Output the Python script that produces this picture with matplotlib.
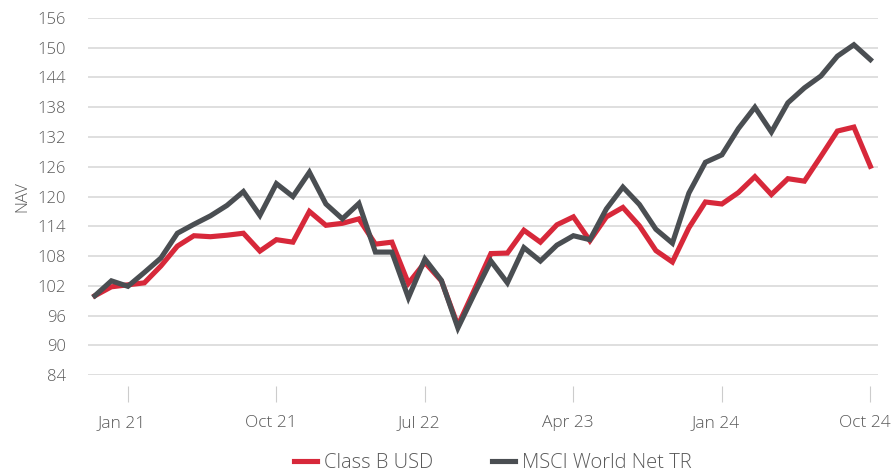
"""NAV chart: Class B USD vs MSCI World Net TR (monthly, Nov 2020 - Oct 2024)."""
import matplotlib

matplotlib.use("Agg")
import matplotlib.pyplot as plt  # noqa: E402
import matplotlib.transforms as mtransforms  # noqa: E402

plt.rcParams["font.family"] = ["Open Sans", "DejaVu Sans"]

months = [
    "Nov 20", "Dec 20", "Jan 21", "Feb 21", "Mar 21", "Apr 21", "May 21", "Jun 21",
    "Jul 21", "Aug 21", "Sep 21", "Oct 21", "Nov 21", "Dec 21", "Jan 22", "Feb 22",
    "Mar 22", "Apr 22", "May 22", "Jun 22", "Jul 22", "Aug 22", "Sep 22", "Oct 22",
    "Nov 22", "Dec 22", "Jan 23", "Feb 23", "Mar 23", "Apr 23", "May 23", "Jun 23",
    "Jul 23", "Aug 23", "Sep 23", "Oct 23", "Nov 23", "Dec 23", "Jan 24", "Feb 24",
    "Mar 24", "Apr 24", "May 24", "Jun 24", "Jul 24", "Aug 24", "Sep 24", "Oct 24",
]
class_b = [
    100.0, 101.8, 102.2, 102.6, 106.0, 110.0, 112.1, 111.9, 112.2, 112.6, 109.0, 111.3,
    110.8, 117.0, 114.2, 114.6, 115.5, 110.4, 110.8, 102.5, 106.7, 103.0, 94.0, 101.2,
    108.5, 108.6, 113.2, 110.8, 114.3, 115.9, 111.1, 115.9, 117.8, 114.1, 109.1, 106.8,
    113.7, 118.9, 118.5, 120.8, 124.0, 120.4, 123.6, 123.1, 128.1, 133.2, 134.0, 126.1,
]
msci = [
    100.0, 103.0, 101.9, 104.7, 107.6, 112.6, 114.4, 116.1, 118.2, 121.0, 116.2, 122.6,
    120.0, 124.9, 118.5, 115.5, 118.6, 108.8, 108.8, 99.6, 107.4, 103.1, 93.5, 100.4,
    107.0, 102.6, 109.7, 107.0, 110.2, 112.1, 111.3, 117.5, 121.9, 118.4, 113.4, 110.6,
    120.7, 126.9, 128.4, 133.7, 138.0, 133.0, 138.9, 141.9, 144.3, 148.3, 150.6, 147.6,
]
tick_labels = ["Jan 21", "Oct 21", "Jul 22", "Apr 23", "Jan 24", "Oct 24"]
y_ticks = list(range(84, 157, 6))

RED = "#d7283a"
GREY = "#4a4e52"
TEXT = "#595959"

fig = plt.figure(figsize=(8.93, 4.73), dpi=100)
ax = fig.add_axes([0.0985, 0.207, 0.8845, 0.755])

x = list(range(len(months)))
ax.plot(x, class_b, color=RED, lw=3.7, solid_joinstyle="miter", label="Class B USD", zorder=3)
ax.plot(x, msci, color=GREY, lw=3.7, solid_joinstyle="miter", label="MSCI World Net TR", zorder=4)

ax.set_ylim(84, 156)
ax.set_yticks(y_ticks)
ax.set_xlim(-0.42, 47.45)
ax.set_xticks([months.index(t) for t in tick_labels])
ax.set_xticklabels(tick_labels)

ax.grid(axis="y", color="#d9d9d9", lw=1.2)
ax.set_axisbelow(True)
for side in ["top", "right", "left"]:
    ax.spines[side].set_visible(False)
ax.spines["bottom"].set_position(("outward", 8))
ax.spines["bottom"].set_visible(False)

ax.tick_params(axis="y", length=0, pad=16, labelsize=12, labelcolor=TEXT)
ax.tick_params(axis="x", length=11.5, width=0.8, color="#cccccc", pad=9,
               labelsize=12.5, labelcolor=TEXT)
# labels sit a few pixels left of their tick marks in the original
shift = mtransforms.ScaledTranslation(-6 / 100, 0, fig.dpi_scale_trans)
for lbl in ax.get_xticklabels():
    lbl.set_fontweight("light")
    lbl.set_transform(lbl.get_transform() + shift)
for lbl in ax.get_yticklabels():
    lbl.set_fontweight("light")
ax.set_ylabel("NAV", fontsize=12, color=TEXT, labelpad=5, fontweight="light")

fig.legend(loc="center", bbox_to_anchor=(0.552, 0.021), ncol=2, frameon=False,
           prop={"size": 14.5, "weight": "light"}, labelcolor=TEXT,
           handlelength=1.15, handletextpad=0.35, columnspacing=2.9)

fig.savefig("out.png", dpi=100)
